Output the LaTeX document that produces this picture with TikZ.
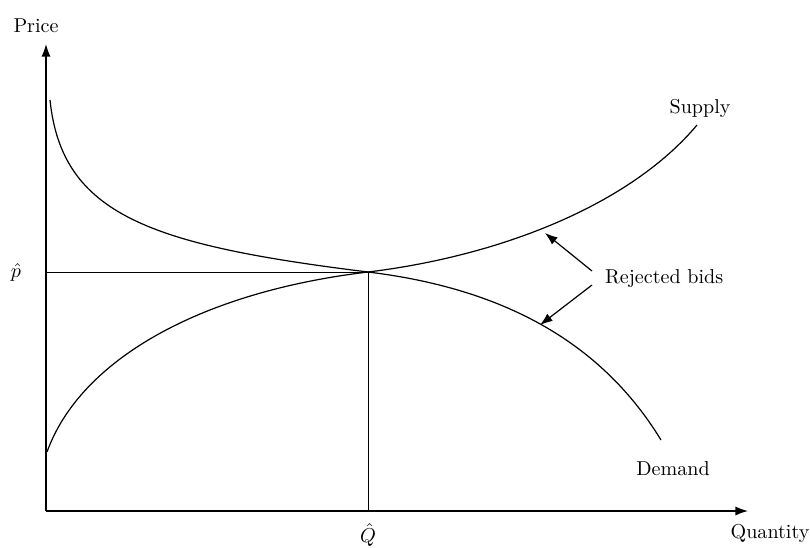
\documentclass[tikz,border=0pt]{standalone}
\usepackage{amsmath}
\usepackage{tikz}
\usetikzlibrary{positioning, arrows.meta, calc}

\begin{document}
\begin{tikzpicture}[x=0.175mm, y=-0.175mm,
    curve/.style={line width=0.6pt},
    axis/.style={line width=0.7pt, -{Latex[length=2.2mm,width=1.6mm]}},
    pointer/.style={line width=0.6pt, -{Latex[length=2.2mm,width=1.6mm]}}]
\useasboundingbox (0,0) rectangle (810,547);
% Axes
\coordinate (O) at (46,511);
\coordinate (ytop) at (46,44);
\coordinate (xend) at (748,511);
\draw[axis] (O) -- (ytop);
\draw[axis] (O) -- (xend);
\node (price) at (36,26) {Price};
\node (quantity) at (770,533) {Quantity};

% Equilibrium
\coordinate (eq) at (368,272);
\coordinate (eqp) at (46,272);
\coordinate (eqq) at (368,511);
\draw[line width=0.5pt] (eqp) -- (eq) -- (eqq);
\node (phat) at (16,272) {$\hat{p}$};
\node (qhat) at (368,535) {$\hat{Q}$};

% Supply and demand curves
\draw[curve] (47,452) .. controls (80,360) and (200,292) .. (eq)
    .. controls (500,256) and (630,205) .. (697,125);
\draw[curve] (50,100) .. controls (62,215) and (150,245) .. (eq)
    .. controls (500,288) and (600,340) .. (661,440);
\node (supply) at (700,108) {Supply};
\node (demand) at (673,469) {Demand};

% Rejected bids
\node[anchor=west] (rej) at (598,279) {Rejected bids};
\coordinate (hitS) at (545,233);
\coordinate (hitD) at (540,325);
\draw[pointer] ($(rej.west)+(-6,-8)$) -- (hitS);
\draw[pointer] ($(rej.west)+(-6,6)$) -- (hitD);
\end{tikzpicture}
\end{document}
